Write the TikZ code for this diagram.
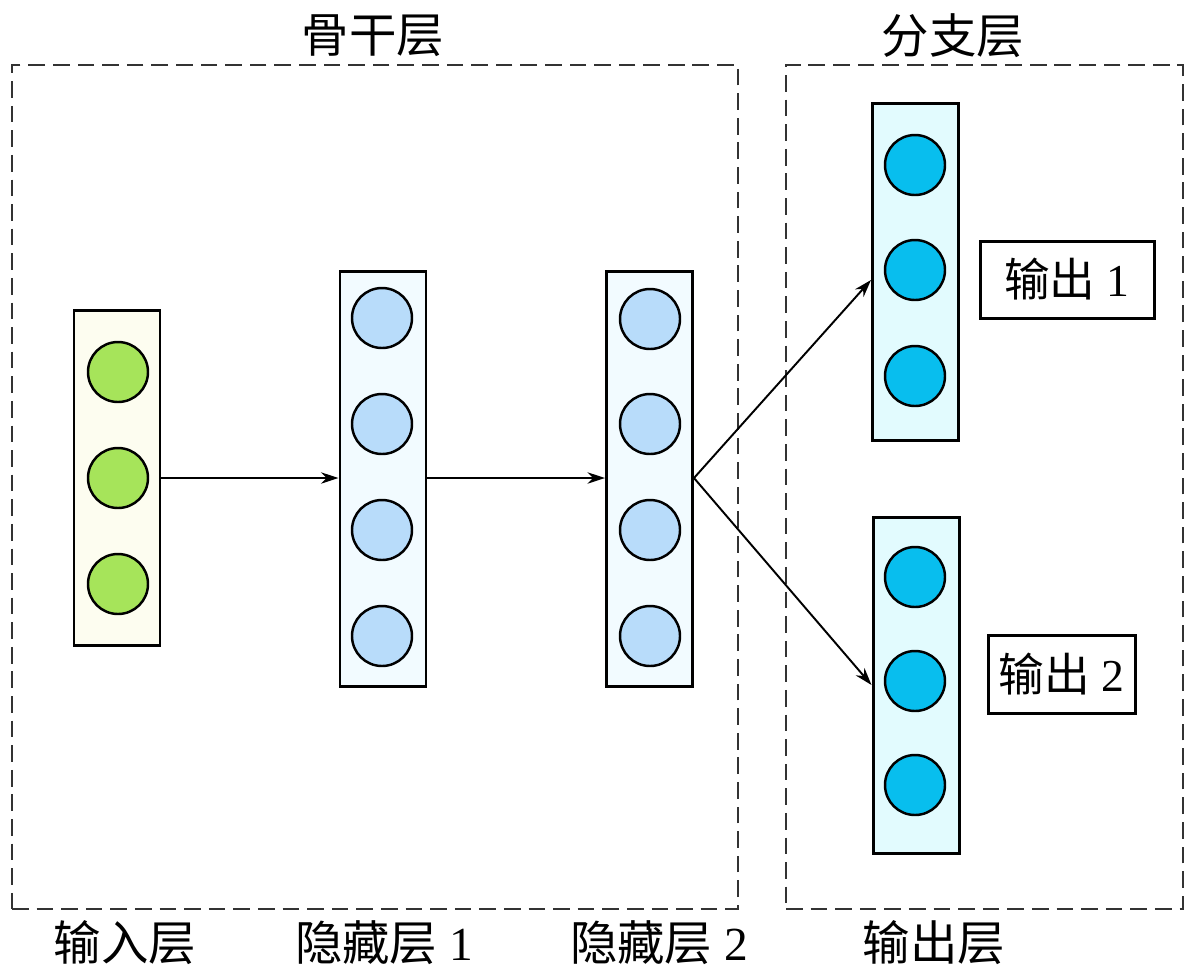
\documentclass[tikz,border=0pt]{standalone}
\usepackage{fontspec}
\setmainfont{Liberation Serif}
\newfontfamily\cjk{Noto Sans CJK SC}
\usetikzlibrary{arrows.meta}
\definecolor{ingreen}{HTML}{A6E45A}
\definecolor{inbg}{HTML}{FDFDF0}
\definecolor{hidblue}{HTML}{B8DCFA}
\definecolor{hidbg}{HTML}{F2FBFF}
\definecolor{outblue}{HTML}{08BEEE}
\definecolor{outbg}{HTML}{E2FBFE}
\begin{document}
\begin{tikzpicture}[x=0.02cm,y=-0.02cm,
  layerbox/.style={draw=black,line width=1.7pt,rectangle,inner sep=0pt,minimum width=86*0.02cm},
  neuron/.style={draw=black,line width=1.4pt,circle,inner sep=0pt,minimum size=60*0.02cm},
  groupbox/.style={draw=black!80,line width=1.4pt,dash pattern=on 9.5pt off 4.5pt},
  conn/.style={line width=1.1pt,-{Stealth[length=10pt,width=6.5pt]}},
  lbl/.style={font=\fontsize{27}{31}\selectfont,inner sep=0pt},
  outlbl/.style={draw=black,line width=1.7pt,rectangle,inner sep=0pt,font=\fontsize{26}{30}\selectfont}]
\useasboundingbox (0,0) rectangle (1200,978);
% group boxes
\node[groupbox,rectangle,minimum width=726*0.02cm,minimum height=844*0.02cm,inner sep=0pt] (backbone) at (375,487) {};
\node[groupbox,rectangle,minimum width=397*0.02cm,minimum height=844*0.02cm,inner sep=0pt] (branch) at (984.5,487) {};
\node[lbl] (tb) at (373,36) {\cjk 骨干层};
\node[lbl] (tr) at (953,36) {\cjk 分支层};
% layer boxes
\node[layerbox,fill=inbg,minimum height=335*0.02cm] (in) at (117,477.5) {};
\node[layerbox,fill=hidbg,minimum height=415*0.02cm] (h1) at (383,478.5) {};
\node[layerbox,fill=hidbg,minimum height=415*0.02cm] (h2) at (649.5,478.5) {};
\node[layerbox,fill=outbg,minimum height=337*0.02cm] (o1) at (915.5,271.5) {};
\node[layerbox,fill=outbg,minimum height=336*0.02cm] (o2) at (916,685) {};
% neurons
\node[neuron,fill=ingreen] (i1) at (118,372) {};
\node[neuron,fill=ingreen] (i2) at (118,478) {};
\node[neuron,fill=ingreen] (i3) at (118,584) {};
\node[neuron,fill=hidblue] (a1) at (382,318) {};
\node[neuron,fill=hidblue] (a2) at (382,424) {};
\node[neuron,fill=hidblue] (a3) at (382,530) {};
\node[neuron,fill=hidblue] (a4) at (382,636) {};
\node[neuron,fill=hidblue] (b1) at (650,319) {};
\node[neuron,fill=hidblue] (b2) at (650,424) {};
\node[neuron,fill=hidblue] (b3) at (650,530) {};
\node[neuron,fill=hidblue] (b4) at (650,636) {};
\node[neuron,fill=outblue] (c1) at (915,165) {};
\node[neuron,fill=outblue] (c2) at (915,270) {};
\node[neuron,fill=outblue] (c3) at (915,376) {};
\node[neuron,fill=outblue] (d1) at (915,577) {};
\node[neuron,fill=outblue] (d2) at (915,681) {};
\node[neuron,fill=outblue] (d3) at (915,785) {};
% output labels
\node[outlbl,minimum width=174*0.02cm,minimum height=77*0.02cm] (out1) at (1067,279.5) {{\cjk 输出}\ 1};
\node[outlbl,minimum width=147*0.02cm,minimum height=78*0.02cm] (out2) at (1061.5,674) {{\cjk 输出}\ 2};
% connectors
\draw[conn] (in.east |- i2) -- (h1.west |- i2);
\draw[conn] (h1.east |- i2) -- (h2.west |- i2);
\coordinate (fork) at (h2.east |- i2);
\draw[conn] (fork) -- (o1.west |- 0,280);
\draw[conn] (fork) -- (o2.west);
% bottom labels
\node[lbl] (l1) at (125,943) {\cjk 输入层};
\node[lbl] (l2) at (384,943) {{\cjk 隐藏层}\ 1};
\node[lbl] (l3) at (659,943) {{\cjk 隐藏层}\ 2};
\node[lbl] (l4) at (934,943) {\cjk 输出层};
\end{tikzpicture}
\end{document}
